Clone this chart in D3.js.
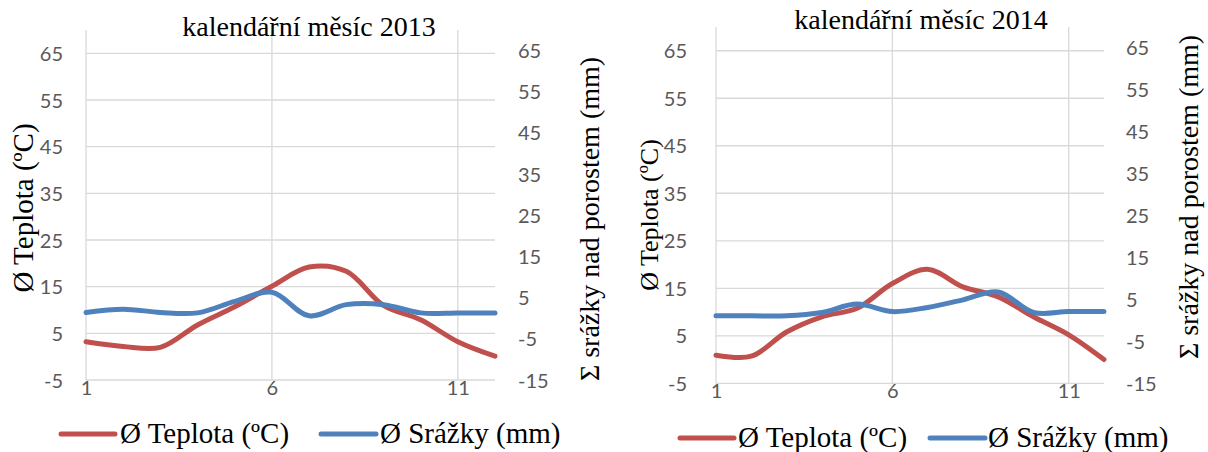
<!DOCTYPE html>
<html>
<head>
<meta charset="utf-8">
<script src="https://cdn.jsdelivr.net/npm/d3@7/dist/d3.min.js"></script>
<style>
  body { margin: 0; background: #fff; }
  svg { display: block; }
</style>
</head>
<body>
<svg id="chart"></svg>
<script>
// data
var months = [1, 2, 3, 4, 5, 6, 7, 8, 9, 10, 11, 12];
var teplota2013 = [3.2, 2.2, 2.0, 6.8, 10.7, 15.1, 19.2, 18.3, 11.0, 7.9, 3.2, 0.1];
var srazky2013  = [1.4, 2.2, 1.4, 1.3, 4.1, 6.3, 0.6, 3.3, 3.3, 1.3, 1.3, 1.3];
var teplota2014 = [0.9, 0.7, 5.8, 9.0, 10.8, 16.0, 19.0, 15.3, 13.2, 9.0, 5.2, 0.0];
var srazky2014  = [1.1, 1.1, 1.1, 1.9, 3.9, 2.1, 3.1, 4.9, 6.8, 1.9, 2.1, 2.1];

var leftTicks = [-5, 5, 15, 25, 35, 45, 55, 65];
var rightTicks = [-15, -5, 5, 15, 25, 35, 45, 55, 65];
var monthTicks = [1, 6, 11];
var titles = ["kalendářní měsíc 2013", "kalendářní měsíc 2014"];
var legendNames = ["Ø Teplota (ºC)", "Ø Srážky (mm)"];
var leftAxisTitle = "Ø Teplota (ºC)";
var rightAxisTitle = "Σ srážky nad porostem (mm)";

var colors = { teplota: "#C0504D", srazky: "#4F81BD" };
var serifFont = "Liberation Serif";
var tickFont = "Lato";

var svg = d3.select("#chart")
  .attr("width", 1208)
  .attr("height", 452);

svg.append("rect").attr("width", 1208).attr("height", 452).attr("fill", "#fff");

var panels = [
  {
    title: titles[0], teplota: teplota2013, srazky: srazky2013,
    x0: 86, x1: 495, bottom: 380, top: 30,
    titleX: 309, titleY: 36,
    leftLabX: 63, rightLabX: 518,
    yTitleL: { x: 24, y: 208, size: 29 },
    yTitleR: { x: 590, y: 219, size: 28 },
    legend: { y: 434, red: [61, 115], t1: 120, blue: [321, 376], t2: 380 }
  },
  {
    title: titles[1], teplota: teplota2014, srazky: srazky2014,
    x0: 716, x1: 1104, bottom: 383.3, top: 27,
    titleX: 921, titleY: 29,
    leftLabX: 687, rightLabX: 1126,
    yTitleL: { x: 650, y: 215, size: 26 },
    yTitleR: { x: 1189, y: 197, size: 28 },
    legend: { y: 438, red: [680, 734], t1: 738, blue: [930, 985], t2: 988 }
  }
];

var serifText = function(sel, size) {
  return sel.append("text")
    .style("font-family", serifFont)
    .style("font-size", size + "px")
    .attr("fill", "#000");
};

// plain hyphen for negatives, like the original
var plain = function(d) { return String(d); };

var drawPanel = function(p) {
  var g = svg.append("g");

  var xScale = d3.scaleLinear().domain([1, 12]).range([p.x0, p.x1]);
  var yLeft = d3.scaleLinear().domain([-5, 70]).range([p.bottom, p.top]);
  var yRight = d3.scaleLinear().domain([-15, 70]).range([p.bottom, p.top]);

  // gridlines
  g.append("g").selectAll("line")
    .data(leftTicks)
    .enter().append("line")
    .attr("x1", p.x0).attr("x2", p.x1)
    .attr("y1", function(d) { return yLeft(d); })
    .attr("y2", function(d) { return yLeft(d); })
    .attr("stroke", "#d9d9d9").attr("stroke-width", 1.3);

  g.append("g").selectAll("line")
    .data(monthTicks)
    .enter().append("line")
    .attr("x1", function(d) { return xScale(d); })
    .attr("x2", function(d) { return xScale(d); })
    .attr("y1", yLeft(70)).attr("y2", yLeft(-5))
    .attr("stroke", "#d9d9d9").attr("stroke-width", 1.3);

  // axes (labels only)
  var styleAxis = function(a) {
    a.attr("font-family", tickFont).attr("font-size", 20);
    a.select(".domain").remove();
    a.selectAll("text").attr("fill", "#595959").attr("dy", "0.35em");
  };

  g.append("g")
    .attr("transform", "translate(" + p.leftLabX + ",0)")
    .call(d3.axisLeft(yLeft).tickValues(leftTicks).tickSize(0).tickPadding(0).tickFormat(plain))
    .call(styleAxis);

  g.append("g")
    .attr("transform", "translate(" + p.rightLabX + ",0)")
    .call(d3.axisRight(yRight).tickValues(rightTicks).tickSize(0).tickPadding(0).tickFormat(plain))
    .call(styleAxis);

  g.append("g")
    .attr("transform", "translate(0," + (p.bottom + 8) + ")")
    .call(d3.axisBottom(xScale).tickValues(monthTicks).tickSize(0).tickPadding(0).tickFormat(plain))
    .call(styleAxis);

  // lines
  var lineT = d3.line()
    .x(function(d, i) { return xScale(months[i]); })
    .y(function(d) { return yLeft(d); })
    .curve(d3.curveCatmullRom);
  var lineS = d3.line()
    .x(function(d, i) { return xScale(months[i]); })
    .y(function(d) { return yRight(d); })
    .curve(d3.curveCatmullRom);

  g.append("path").datum(p.teplota)
    .attr("d", lineT).attr("fill", "none")
    .attr("stroke", colors.teplota).attr("stroke-width", 5)
    .attr("stroke-linecap", "round").attr("stroke-linejoin", "round");

  g.append("path").datum(p.srazky)
    .attr("d", lineS).attr("fill", "none")
    .attr("stroke", colors.srazky).attr("stroke-width", 5)
    .attr("stroke-linecap", "round").attr("stroke-linejoin", "round");

  // title
  serifText(g, 28)
    .attr("x", p.titleX).attr("y", p.titleY)
    .attr("text-anchor", "middle")
    .text(p.title);

  // axis titles
  serifText(g, p.yTitleL.size)
    .attr("transform", "translate(" + p.yTitleL.x + "," + p.yTitleL.y + ") rotate(-90)")
    .attr("text-anchor", "middle").attr("dy", "0.32em")
    .text(leftAxisTitle);

  serifText(g, p.yTitleR.size)
    .attr("transform", "translate(" + p.yTitleR.x + "," + p.yTitleR.y + ") rotate(-90)")
    .attr("text-anchor", "middle").attr("dy", "0.32em")
    .text(rightAxisTitle);

  // legend
  var lg = g.append("g");
  lg.append("line")
    .attr("x1", p.legend.red[0]).attr("x2", p.legend.red[1])
    .attr("y1", p.legend.y).attr("y2", p.legend.y)
    .attr("stroke", colors.teplota).attr("stroke-width", 5).attr("stroke-linecap", "round");
  serifText(lg, 29)
    .attr("x", p.legend.t1).attr("y", p.legend.y + 9)
    .text(legendNames[0]);
  lg.append("line")
    .attr("x1", p.legend.blue[0]).attr("x2", p.legend.blue[1])
    .attr("y1", p.legend.y).attr("y2", p.legend.y)
    .attr("stroke", colors.srazky).attr("stroke-width", 5).attr("stroke-linecap", "round");
  serifText(lg, 29)
    .attr("x", p.legend.t2).attr("y", p.legend.y + 9)
    .text(legendNames[1]);
};

panels.forEach(function(p) {
  drawPanel(p);
});
</script>
</body>
</html>
